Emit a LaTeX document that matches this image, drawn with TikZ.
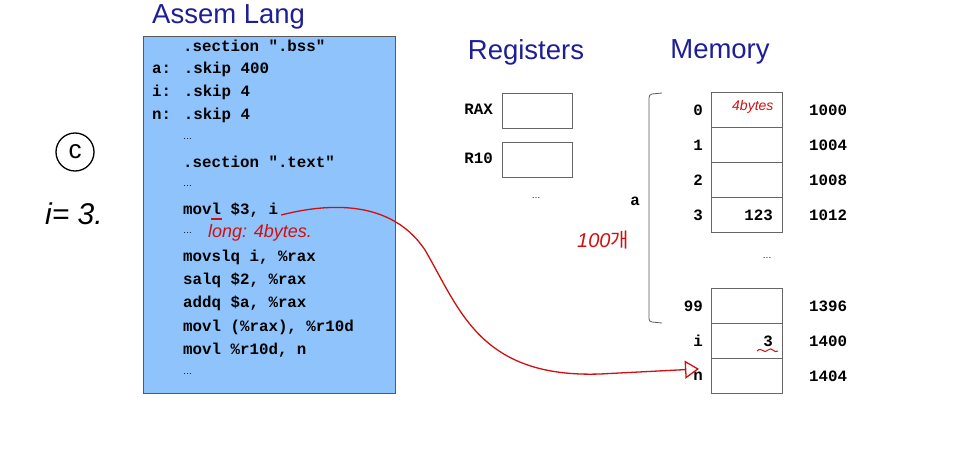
\documentclass[tikz,border=0pt]{standalone}
\usepackage{fontspec}
\setmainfont{Liberation Sans}
\newfontfamily\codefont{Liberation Mono}
\newfontfamily\krfont{Noto Sans CJK KR}
\usetikzlibrary{arrows.meta}
\definecolor{codebg}{HTML}{8EC3FB}
\definecolor{titleblue}{HTML}{1E1E96}
\definecolor{hand}{HTML}{D01010}
\tikzset{
  code/.style={anchor=west,inner sep=0pt,font=\codefont\bfseries\fontsize{15.8}{16}\selectfont},
  lbl/.style={anchor=east,inner sep=0pt,font=\codefont\bfseries\fontsize{15.8}{16}\selectfont},
  addr/.style={anchor=west,inner sep=0pt,font=\codefont\bfseries\fontsize{15.8}{16}\selectfont},
  ttl/.style={inner sep=0pt,text=titleblue,font=\fontsize{27.5}{28}\selectfont},
  cell/.style={draw=black!60,line width=0.8pt,minimum width=71pt,minimum height=35pt,inner sep=0pt},
  reg/.style={draw=black!60,line width=0.8pt,minimum width=70pt,minimum height=35pt,inner sep=0pt},
  handred/.style={text=hand,inner sep=0pt,font=\itshape\fontsize{18}{18}\selectfont},
}
\begin{document}
\begin{tikzpicture}[x=1pt,y=-1pt]
\useasboundingbox (0,0) rectangle (972,471);
% code panel
\node[draw=black!65,fill=codebg,line width=0.8pt,minimum width=252pt,minimum height=357pt,inner sep=0pt,anchor=north west] (panel) at (143,36) {};
\node[ttl,anchor=west] (t1) at (152,17) {Assem Lang};
\node[code] (c1) at (183,46) {.section ".bss"};
\node[code] (c2) at (152,69) {a: .skip 400};
\node[code] (c3) at (152,92) {i: .skip 4};
\node[code] (c4) at (152,115) {n: .skip 4};
\node[code] (c5) at (183,139) {\normalfont\fontsize{9}{9}\selectfont …};
\node[code] (c6) at (183,162) {.section ".text"};
\node[code] (c7) at (183,186) {\normalfont\fontsize{9}{9}\selectfont …};
\node[code] (c8) at (183,210) {movl \$3, i};
\node[code] (c9) at (183,233) {\normalfont\fontsize{9}{9}\selectfont …};
\node[code] (c10) at (183,257) {movslq i, \%rax};
\node[code] (c11) at (183,280) {salq \$2, \%rax};
\node[code] (c12) at (183,303) {addq \$a, \%rax};
\node[code] (c13) at (183,327) {movl (\%rax), \%r10d};
\node[code] (c14) at (183,350) {movl \%r10d, n};
\node[code] (c15) at (183,374) {\normalfont\fontsize{9}{9}\selectfont …};
% registers
\node[ttl] (t2) at (526,52) {Registers};
\node[lbl] (lrax) at (493,109) {RAX};
\node[reg,anchor=north west] (rax) at (502,93) {};
\node[lbl] (lr10) at (493,158) {R10};
\node[reg,anchor=north west] (r10) at (502,142) {};
\node[inner sep=0pt,font=\fontsize{9}{9}\selectfont] (rdots) at (536,198) {…};
% memory
\node[ttl] (t3) at (720,52) {Memory};
\node[cell,anchor=north west] (m0) at (711,92) {};
\node[cell,anchor=north west] (m1) at (711,127) {};
\node[cell,anchor=north west] (m2) at (711,162) {};
\node[cell,anchor=north west] (m3) at (711,197) {};
\node[cell,anchor=north west] (m99) at (711,288) {};
\node[cell,anchor=north west] (mi) at (711,323) {};
\node[cell,anchor=north west] (mn) at (711,358) {};
\node[lbl] (i0) at (703,110) {0};
\node[lbl] (i1) at (703,145) {1};
\node[lbl] (i2) at (703,180) {2};
\node[lbl] (i3) at (703,215) {3};
\node[lbl] (i99) at (703,306) {99};
\node[lbl] (ii) at (703,341) {i};
\node[lbl] (in) at (703,376) {n};
\node[lbl] (v3) at (773,215) {123};
\node[lbl] (vi) at (773,341) {3};
\node[addr] (a0) at (809,110) {1000};
\node[addr] (a1) at (809,145) {1004};
\node[addr] (a2) at (809,180) {1008};
\node[addr] (a3) at (809,215) {1012};
\node[addr] (a99) at (809,306) {1396};
\node[addr] (ai) at (809,341) {1400};
\node[addr] (an) at (809,376) {1404};
\node[inner sep=0pt,font=\fontsize{9}{9}\selectfont] (mdots) at (767,258) {…};
\node[lbl] (la) at (640,201) {a};
\coordinate (bt) at (662,93);
\coordinate (bb) at (662,323);
\draw[black!65,line width=0.8pt] (bt) -- (652,94) to[out=180,in=90] (649,98) -- (649,319) to[out=-90,in=180] (652,322) -- (bb);
% handwritten annotations
\node[circle,draw=black,line width=1.3pt,minimum size=38pt,inner sep=0pt,font=\fontsize{26}{26}\selectfont] (cc) at (75,152) {c};
\node[inner sep=0pt,font=\itshape\fontsize{30}{30}\selectfont] (ieq) at (74,214) {i= 3.};
\draw[hand,line width=1.3pt] (211,219) -- (222,219);
\node[handred,anchor=west] (long) at (208,233) {long: 4bytes.};
\node[handred,anchor=west,font=\itshape\fontsize{20}{20}\selectfont] (cnt) at (577,240) {100\krfont 개};
\node[handred,anchor=west,font=\itshape\fontsize{14}{14}\selectfont] (fb) at (732,107) {4bytes};
\draw[hand,line width=1pt] (757,351) .. controls (762,346) and (764,355) .. (768,350) .. controls (772,346) and (774,354) .. (778,351);
% connector
\coordinate (s) at ([shift={(3,5)}]c8.east);
\coordinate (e) at ([shift={(-12,-7)}]mn.west);
\draw[hand,line width=1.3pt,-{Triangle[open,length=14pt,width=18pt,line width=1.3pt]}] (s) .. controls (340,200) and (395,205) .. (425,250) .. controls (460,310) and (480,378) .. (600,374) -- (e);
\end{tikzpicture}
\end{document}
